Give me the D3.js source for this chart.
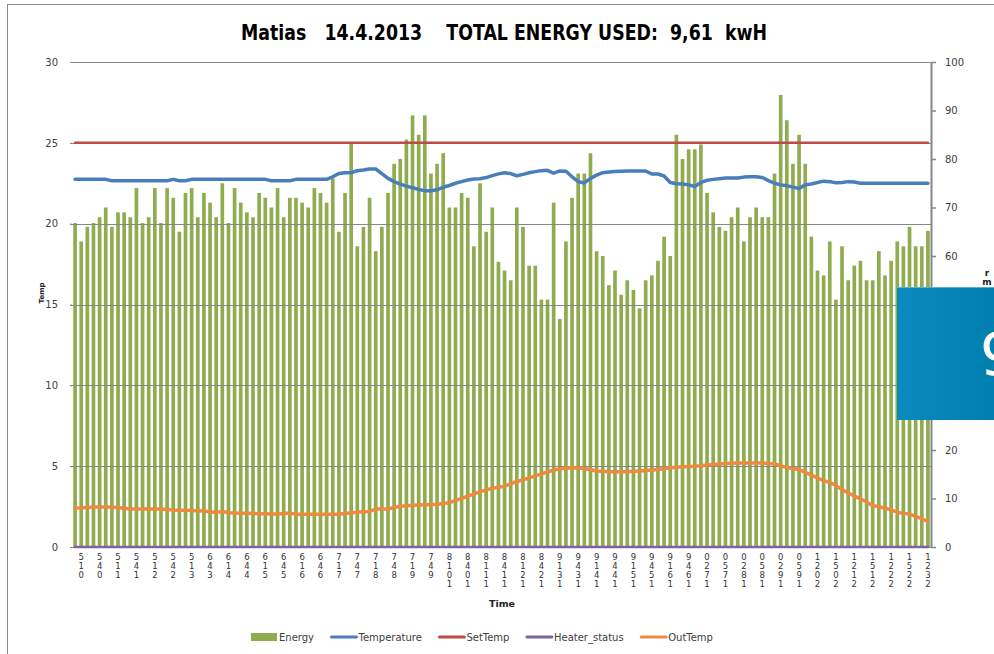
<!DOCTYPE html>
<html><head><meta charset="utf-8">
<script src="https://cdn.jsdelivr.net/npm/d3@7"></script>
<style>
body{margin:0;background:#fff}
svg{display:block}
text{font-family:"DejaVu Sans",sans-serif}
</style>
</head><body>
<svg id="c" width="994" height="654"></svg>
<script>
// ---- data ----
const titleText = "Matias   14.4.2013    TOTAL ENERGY USED:  9,61  kwH";
const axisTitleX = "Time";
const seriesNames = ["Energy","Temperature","SetTemp","Heater_status","OutTemp"];

// Energy per 10-minute sample (secondary axis, 0-100)
const energy = [66.8,63.0,66.0,66.8,68.0,70.0,66.0,69.0,69.0,68.0,
74.0,66.8,68.0,74.0,66.8,74.0,72.0,65.0,73.0,74.0,
68.0,73.0,71.0,68.0,75.0,66.8,74.0,71.0,69.0,68.0,
73.0,72.0,70.0,74.0,68.0,72.0,72.0,71.0,70.0,74.0,
73.0,71.0,76.0,65.0,73.0,83.3,62.0,66.0,72.0,61.0,
66.0,73.0,79.0,80.0,84.0,89.0,85.0,89.0,77.0,79.0,
81.2,70.0,70.0,73.0,72.0,62.0,75.0,65.0,70.0,58.8,
57.0,55.0,70.0,66.0,58.0,58.0,51.0,51.0,71.0,47.0,
63.0,72.0,77.0,77.0,81.2,61.0,60.0,54.0,57.0,52.0,
55.0,53.0,49.2,55.0,56.0,59.0,64.0,60.0,85.0,80.0,
82.0,82.0,83.0,73.0,69.0,66.0,65.2,68.0,70.0,63.0,
68.0,70.0,68.0,68.0,77.0,93.2,88.0,79.0,85.0,79.0,
64.0,57.0,56.0,63.0,51.0,62.0,55.0,58.0,59.0,55.0,
55.0,61.0,56.0,59.0,63.0,62.0,66.0,62.0,62.0,65.2];

// Indoor temperature (primary axis, 0-30)
const temperature = [22.74,22.74,22.74,22.74,22.74,22.74,
22.65,22.65,22.65,22.65,22.65,22.65,22.65,22.65,22.65,22.65,
22.74,22.65,22.65,
22.74,22.74,22.74,22.74,22.74,22.74,22.74,22.74,22.74,22.74,22.74,22.74,22.74,
22.65,22.65,22.65,22.65,
22.74,22.74,22.74,22.74,22.74,22.74,
22.9,23.1,23.15,23.15,23.28,23.32,23.38,23.38,
23.1,22.8,22.6,22.45,22.32,22.22,22.12,22.04,22.04,22.1,
22.25,22.36,22.5,22.6,22.7,22.76,22.78,22.85,22.97,23.08,
23.15,23.1,22.96,23.05,23.15,23.22,23.28,23.3,23.12,23.26,
23.24,22.9,22.6,22.52,22.8,23.0,23.15,23.2,23.22,23.24,
23.26,23.26,23.26,23.26,23.07,23.07,22.95,22.55,22.47,22.45,
22.4,22.3,22.55,22.68,22.74,22.78,22.82,22.82,22.82,22.88,
22.9,22.9,22.86,22.66,22.5,22.4,22.34,22.26,22.18,22.4,
22.45,22.55,22.63,22.6,22.53,22.55,22.6,22.58,22.5,22.5,
22.5,22.5,22.5,22.5,22.5,22.5,22.5,22.5,22.5,22.5];

const setTemp = [25,25,25,25,25,25,25,25,25,25,25,25,25,25,25,25,25,25,25,25,
25,25,25,25,25,25,25,25,25,25,25,25,25,25,25,25,25,25,25,25,
25,25,25,25,25,25,25,25,25,25,25,25,25,25,25,25,25,25,25,25,
25,25,25,25,25,25,25,25,25,25,25,25,25,25,25,25,25,25,25,25,
25,25,25,25,25,25,25,25,25,25,25,25,25,25,25,25,25,25,25,25,
25,25,25,25,25,25,25,25,25,25,25,25,25,25,25,25,25,25,25,25,
25,25,25,25,25,25,25,25,25,25,25,25,25,25,25,25,25,25,25,25];

const heaterStatus = [0,0,0,0,0,0,0,0,0,0,0,0,0,0,0,0,0,0,0,0,
0,0,0,0,0,0,0,0,0,0,0,0,0,0,0,0,0,0,0,0,
0,0,0,0,0,0,0,0,0,0,0,0,0,0,0,0,0,0,0,0,
0,0,0,0,0,0,0,0,0,0,0,0,0,0,0,0,0,0,0,0,
0,0,0,0,0,0,0,0,0,0,0,0,0,0,0,0,0,0,0,0,
0,0,0,0,0,0,0,0,0,0,0,0,0,0,0,0,0,0,0,0,
0,0,0,0,0,0,0,0,0,0,0,0,0,0,0,0,0,0,0,0];

const outTemp = [2.39,2.42,2.45,2.48,2.48,2.47,2.46,2.45,2.40,2.35,
2.35,2.35,2.35,2.35,2.35,2.32,2.29,2.28,2.27,2.25,
2.24,2.22,2.18,2.14,2.20,2.12,2.10,2.09,2.08,2.07,
2.06,2.05,2.04,2.04,2.07,2.10,2.02,2.02,2.02,2.02,
2.02,2.02,2.02,2.02,2.07,2.12,2.15,2.18,2.20,2.35,
2.35,2.35,2.44,2.52,2.55,2.58,2.60,2.62,2.63,2.64,
2.69,2.74,2.87,3.00,3.14,3.28,3.42,3.53,3.63,3.70,
3.75,3.92,4.05,4.15,4.27,4.40,4.52,4.64,4.76,4.82,
4.88,4.90,4.88,4.85,4.78,4.70,4.68,4.66,4.65,4.65,
4.66,4.68,4.70,4.73,4.76,4.80,4.85,4.90,4.94,4.96,
4.98,5.00,5.03,5.07,5.10,5.13,5.16,5.18,5.20,5.20,
5.20,5.20,5.19,5.17,5.15,5.02,4.92,4.85,4.80,4.62,
4.45,4.27,4.10,4.00,3.80,3.55,3.35,3.15,2.98,2.78,
2.55,2.50,2.40,2.30,2.15,2.08,2.04,1.90,1.75,1.57];

const tickLabels = ["0:15","0:45","1:15","1:45","2:15","2:45","3:15","3:46","4:16","4:46",
"5:16","5:46","6:16","6:46","7:17","7:47","8:17","8:47","9:17","9:47",
"10:18","10:48","11:18","11:48","12:18","12:48","13:19","13:49","14:19","14:49",
"15:19","15:49","16:19","16:49","17:20","17:50","18:20","18:50","19:20","19:50",
"20:21","20:51","21:21","21:51","22:21","22:51","23:21"];
const leftTicks = [0,5,10,15,20,25,30];
const rightTicks = [0,10,20,30,40,50,60,70,80,90,100];
const overlayText = "9,61";
const rightTitleChars = ["r","m"];

// ---- drawing ----
const colors = {Energy:"#8fac50",Temperature:"#4a7ebb",SetTemp:"#be4b48",Heater_status:"#7f63a0",OutTemp:"#ee8a3e"};
const svg = d3.select("#c");
const L = 72, R = 931, T = 62, B = 547;
const categories = d3.range(energy.length);
const x = d3.scaleBand().domain(categories).range([L,R]).paddingInner(0.4).paddingOuter(0.2);
const cx = i => x(i) + x.bandwidth()/2;
const yL = d3.scaleLinear().domain([0,30]).range([B,T]);
const yR = d3.scaleLinear().domain([0,100]).range([B,T]);

// frame
svg.append("line").attr("x1",7.5).attr("x2",7.5).attr("y1",4).attr("y2",654).attr("stroke","#8a8a8a");
svg.append("line").attr("x1",7).attr("x2",994).attr("y1",4.5).attr("y2",4.5).attr("stroke","#8a8a8a");

// title
const title = svg.append("text").attr("x",504).attr("y",40).attr("text-anchor","middle")
  .attr("font-family","'Liberation Sans',Arial,sans-serif").attr("font-weight","bold").attr("font-size",21)
  .attr("fill","#000").style("white-space","pre").attr("xml:space","preserve").text(titleText);
title.attr("textLength",526).attr("lengthAdjust","spacingAndGlyphs");

// bars (secondary axis)
svg.append("g").selectAll("rect").data(energy).join("rect")
  .attr("x",(d,i)=>x(i)).attr("width",x.bandwidth())
  .attr("y",d=>yR(d)).attr("height",d=>B-yR(d)).attr("fill",colors.Energy);

// gridlines
svg.append("g").selectAll("line").data(leftTicks).join("line")
  .attr("x1",L-2).attr("x2",R).attr("y1",d=>Math.round(yL(d))+0.5).attr("y2",d=>Math.round(yL(d))+0.5)
  .attr("stroke","#878787").attr("stroke-width",1.2);

// left axis
const ax = svg.append("g").attr("transform",`translate(${L},0)`)
  .call(d3.axisLeft(yL).tickValues(leftTicks).tickSize(2).tickPadding(12));
ax.select(".domain").remove();
ax.selectAll("line").attr("stroke","#878787");
ax.selectAll("text").attr("font-family","'DejaVu Sans',sans-serif").attr("font-size",10).attr("fill","#404040");

// right axis
const ar = svg.append("g").attr("transform",`translate(${R},0)`)
  .call(d3.axisRight(yR).tickValues(rightTicks).tickSize(5).tickSizeOuter(0).tickPadding(9));
ar.select(".domain").attr("stroke","#878787").attr("stroke-width",2);
ar.selectAll(".tick line").attr("stroke","#878787").attr("stroke-width",1.5);
ar.selectAll("text").attr("font-family","'DejaVu Sans',sans-serif").attr("font-size",10).attr("fill","#404040");

// bottom axis with stacked characters
const tickIdx = tickLabels.map((t,k)=>1+3*k);
const ab = svg.append("g").attr("transform",`translate(0,${B})`)
  .call(d3.axisBottom(x).tickValues(tickIdx).tickFormat((d,k)=>tickLabels[k]).tickSize(0).tickSizeOuter(0));
ab.select(".domain").remove();
ab.selectAll("text").each(function(d,k){
  const chars = tickLabels[k].replace(":","").split("").reverse();
  const t = d3.select(this).text(null).attr("y",13).attr("dy",null)
    .attr("font-family","'DejaVu Sans',sans-serif").attr("font-size",8.5).attr("fill","#333");
  chars.forEach((c,j)=>t.append("tspan").attr("x",0).attr("dy",j===0?0:9).text(c));
});

// axis titles
svg.append("text").attr("x",502).attr("y",607).attr("text-anchor","middle")
  .attr("font-weight","bold").attr("font-size",9.5).attr("fill","#222").text(axisTitleX);
svg.append("text").attr("transform","translate(44,293) rotate(-90)").attr("text-anchor","middle")
  .attr("font-weight","bold").attr("font-size",7).attr("fill","#222").text("Temp");
const rt = svg.append("text").attr("x",987).attr("y",276).attr("text-anchor","middle")
  .attr("font-weight","bold").attr("font-size",9).attr("fill","#222");
rightTitleChars.forEach((c,j)=>rt.append("tspan").attr("x",987).attr("dy",j===0?0:9).text(c));

// lines
const lineL = d3.line().x((d,i)=>cx(i)).y(d=>yL(d));
function drawLine(data,color,w){
  svg.append("path").datum(data).attr("d",lineL).attr("fill","none")
    .attr("stroke",color).attr("stroke-width",w).attr("stroke-linejoin","round").attr("stroke-linecap","round");
}
drawLine(heaterStatus,colors.Heater_status,2.5);
drawLine(outTemp,colors.OutTemp,3.5);
drawLine(setTemp,colors.SetTemp,2.5);
drawLine(temperature,colors.Temperature,3.5);

// legend
const lg = svg.append("g").attr("transform","translate(0,637)");
let lx = 251;
seriesNames.forEach(name=>{
  if(name==="Energy"){
    lg.append("rect").attr("x",lx).attr("y",-4).attr("width",26).attr("height",8).attr("fill",colors[name]);
  } else {
    lg.append("line").attr("x1",lx+1).attr("x2",lx+26).attr("y1",0).attr("y2",0)
      .attr("stroke",colors[name]).attr("stroke-width",3).attr("stroke-linecap","round");
  }
  const t = lg.append("text").attr("x",lx+28).attr("y",3.6).attr("font-size",10).attr("fill","#404040").text(name);
  lx += 28 + t.node().getComputedTextLength() + 16.5;
});

// overlay box
const defs = svg.append("defs");
const gr = defs.append("linearGradient").attr("id","bx").attr("x1",0).attr("x2",1).attr("y1",0).attr("y2",0);
gr.append("stop").attr("offset",0).attr("stop-color","#0a8abd");
gr.append("stop").attr("offset",1).attr("stop-color","#0080b0");
svg.append("rect").attr("x",897).attr("y",287).attr("width",97).attr("height",133).attr("fill","url(#bx)");
svg.append("line").attr("x1",897).attr("x2",994).attr("y1",287.5).attr("y2",287.5).attr("stroke","#5aaed0");
svg.append("text").attr("x",980).attr("y",375).attr("font-size",58).attr("fill","#fff").text(overlayText);
</script>
</body></html>
